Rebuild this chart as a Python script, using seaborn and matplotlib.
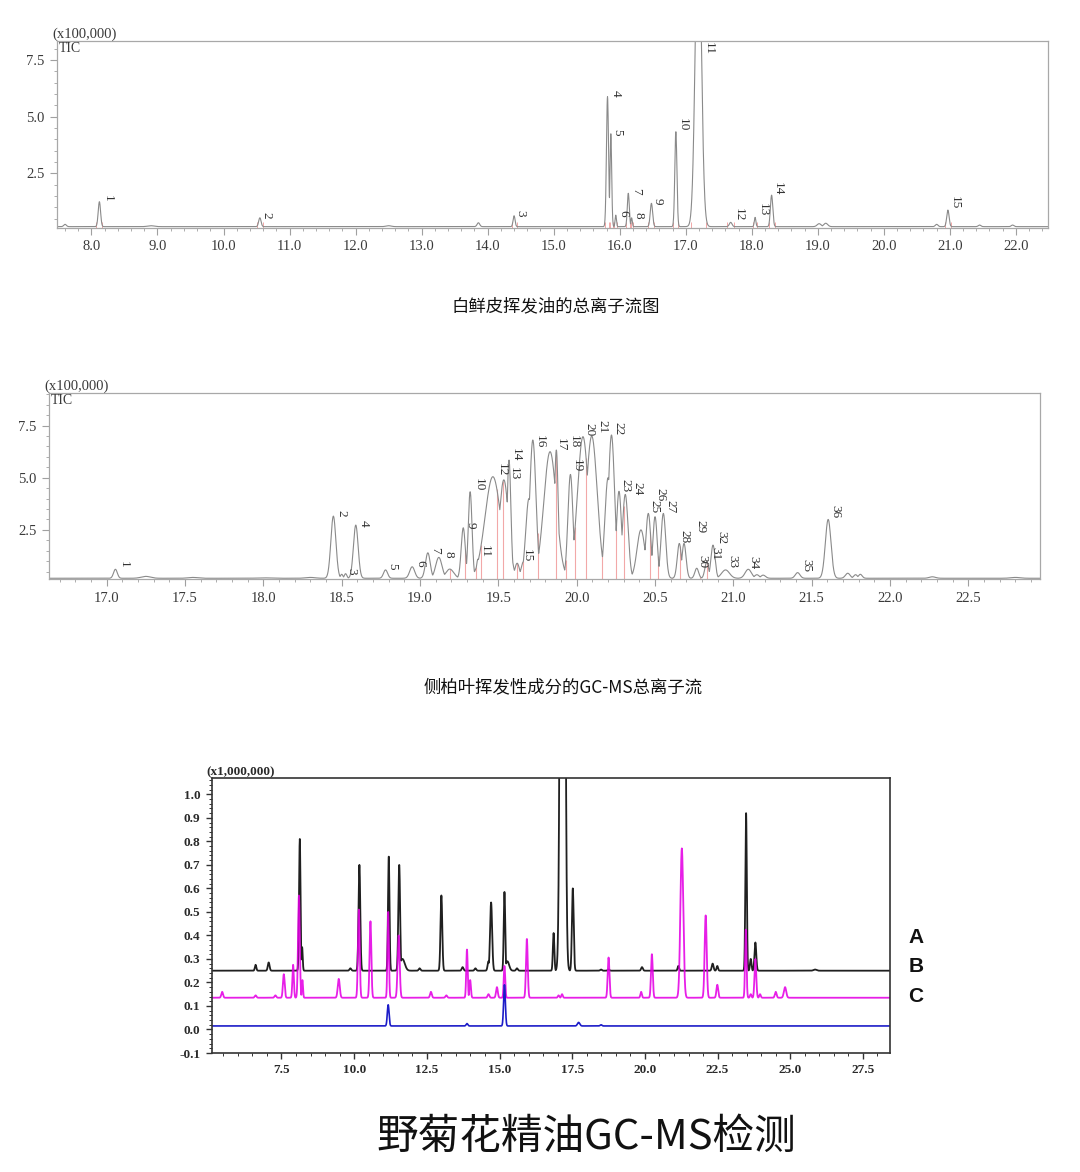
import numpy as np
import matplotlib
matplotlib.use("Agg")
import matplotlib.pyplot as plt
from matplotlib.ticker import MultipleLocator, FormatStrFormatter
import seaborn as sns

# ── panel 1: 白鲜皮挥发油 TIC  (x100,000) ──────────────────────────────────────────
p1_rt    = [7.60, 8.12, 8.90, 10.55, 12.50, 13.86, 14.40, 15.815, 15.865, 15.94, 16.13, 16.18,
            16.48, 16.85, 17.19, 17.68, 18.05, 18.30, 19.02, 19.12, 20.80, 20.97, 21.45, 21.95]
p1_top   = [0.25, 1.25, 0.19, 0.54, 0.19, 0.32, 0.63, 5.88, 4.26, 0.66, 1.62, 0.54,
            1.18, 4.34, 14.0, 0.34, 0.56, 1.54, 0.28, 0.30, 0.25, 0.88, 0.22, 0.22]
p1_sigma = [0.02, 0.018, 0.05, 0.018, 0.04, 0.02, 0.015, 0.016, 0.013, 0.010, 0.015, 0.010,
            0.018, 0.016, 0.045, 0.02, 0.012, 0.018, 0.03, 0.03, 0.02, 0.018, 0.02, 0.02]
p1_base  = 0.15
p1_tags  = ["1", "2", "3", "4", "5", "6", "7", "8", "9", "10", "11", "12", "13", "14", "15"]

# ── panel 2: 侧柏叶 TIC  (x100,000) ─────────────────────────────────────────────
p2_rt    = [17.056, 17.25, 17.55, 18.00, 18.30, 18.447, 18.50, 18.525, 18.59, 18.78, 18.95,
            19.05, 19.12, 19.19, 19.276, 19.32, 19.37, 19.465, 19.535, 19.568, 19.62, 19.66,
            19.695, 19.72, 19.83, 19.87, 19.96, 20.04, 20.096, 20.20, 20.222, 20.27, 20.31,
            20.41, 20.457, 20.50, 20.553, 20.655, 20.685, 20.766, 20.83, 20.87, 20.95,
            21.095, 21.15, 21.19, 21.41, 21.605, 21.73, 21.78, 21.81, 22.27, 22.80]
p2_top   = [0.61, 0.27, 0.22, 0.20, 0.22, 3.16, 0.37, 0.40, 2.73, 0.58, 0.73,
            1.40, 1.18, 0.62, 2.60, 4.33, 1.10, 5.05, 4.90, 5.85, 0.90, 0.97,
            4.00, 6.81, 6.25, 6.33, 5.16, 6.97, 7.00, 5.00, 7.05, 4.35, 4.20,
            2.50, 3.29, 3.13, 3.29, 1.85, 1.85, 0.66, 0.97, 1.77, 0.58,
            0.61, 0.35, 0.33, 0.45, 3.00, 0.42, 0.35, 0.37, 0.25, 0.22]
p2_sigma = [0.012, 0.03, 0.03, 0.04, 0.03, 0.016, 0.008, 0.008, 0.015, 0.013, 0.016,
            0.015, 0.02, 0.025, 0.013, 0.012, 0.010, 0.05, 0.03, 0.012, 0.015, 0.015,
            0.02, 0.02, 0.04, 0.012, 0.016, 0.035, 0.035, 0.02, 0.02, 0.016, 0.018,
            0.025, 0.016, 0.014, 0.015, 0.013, 0.013, 0.012, 0.012, 0.013, 0.025,
            0.02, 0.015, 0.015, 0.015, 0.018, 0.015, 0.012, 0.012, 0.02, 0.03]
p2_base  = 0.18
p2_tags  = [str(i) for i in range(1, 37)]
# integration drop lines (red)
p2_drop_rt = [19.19, 19.29, 19.36, 19.39, 19.49, 19.53, 19.62, 19.66, 19.75, 19.87,
              19.93, 19.99, 20.06, 20.16, 20.25, 20.30, 20.47, 20.52, 20.61, 20.66, 20.79, 20.83]

# ── panel 3: 野菊花精油  (x1,000,000) ───────────────────────────────────────────
a_rt    = [6.61, 7.06, 8.13, 8.21, 9.87, 10.18, 11.19, 11.55, 11.66, 12.25, 13.00, 13.73,
           14.17, 14.62, 14.71, 15.17, 15.27, 15.60, 16.86, 17.17, 17.52, 18.49, 18.75,
           19.90, 21.15, 22.33, 22.49, 23.48, 23.64, 23.80, 25.85]
a_top   = [0.275, 0.285, 0.81, 0.35, 0.26, 0.70, 0.735, 0.70, 0.30, 0.26, 0.57, 0.265,
           0.26, 0.29, 0.54, 0.585, 0.29, 0.26, 0.41, 6.0, 0.60, 0.255, 0.255,
           0.265, 0.27, 0.28, 0.27, 0.92, 0.30, 0.37, 0.255]
a_sigma = [0.025, 0.03, 0.025, 0.02, 0.03, 0.03, 0.025, 0.03, 0.08, 0.03, 0.03, 0.03,
           0.03, 0.03, 0.035, 0.025, 0.06, 0.03, 0.025, 0.06, 0.03, 0.03, 0.03,
           0.03, 0.025, 0.03, 0.025, 0.025, 0.025, 0.03, 0.05]
a_base  = 0.25

b_rt    = [5.46, 6.61, 7.29, 7.58, 7.90, 8.10, 8.22, 9.47, 10.16, 10.56, 11.17, 11.53,
           12.64, 13.17, 13.88, 13.99, 14.62, 14.91, 15.17, 15.94, 17.03, 17.15, 18.75,
           19.87, 20.24, 21.27, 22.09, 22.49, 23.47, 23.64, 23.80, 23.96, 24.50, 24.82]
b_top   = [0.16, 0.145, 0.145, 0.235, 0.275, 0.57, 0.21, 0.215, 0.51, 0.46, 0.50, 0.40,
           0.16, 0.145, 0.34, 0.21, 0.15, 0.18, 0.27, 0.385, 0.145, 0.15, 0.306,
           0.16, 0.32, 0.77, 0.485, 0.19, 0.425, 0.15, 0.30, 0.15, 0.16, 0.18]
b_sigma = [0.03, 0.03, 0.03, 0.03, 0.025, 0.03, 0.02, 0.035, 0.03, 0.03, 0.025, 0.035,
           0.03, 0.03, 0.025, 0.025, 0.03, 0.03, 0.025, 0.03, 0.025, 0.025, 0.03,
           0.025, 0.03, 0.05, 0.035, 0.03, 0.025, 0.025, 0.03, 0.025, 0.03, 0.04]
b_base  = 0.135

c_rt    = [11.17, 13.88, 15.17, 17.72, 18.49]
c_top   = [0.105, 0.025, 0.19, 0.03, 0.02]
c_sigma = [0.03, 0.03, 0.03, 0.04, 0.03]
c_base  = 0.015

trace_labels = ["A", "B", "C"]

# ── label anchors (layout, data coords: centre x / lower end y) ─────────────────
P1_TAG_X = [8.24, 10.65, 14.49, 15.94, 15.97, 16.05, 16.25, 16.29, 16.58, 16.96,
            17.35, 17.81, 18.16, 18.40, 21.07]
P1_TAG_Y = [1.25, 0.52, 0.59, 5.88, 4.19, 0.59, 1.54, 0.52, 1.13, 4.37,
            None, 0.37, 0.62, 1.51, 0.93]
P2_TAG_X = [17.107, 18.50, 18.564, 18.638, 18.82, 19.0, 19.096, 19.18, 19.32, 19.372,
            19.415, 19.52, 19.60, 19.61, 19.68, 19.766, 19.90, 19.98, 20.0, 20.08,
            20.166, 20.265, 20.31, 20.39, 20.495, 20.536, 20.60, 20.69, 20.787, 20.80,
            20.885, 20.925, 20.995, 21.127, 21.463, 21.648]
P2_TAG_Y = [0.66, 3.13, 0.37, 2.65, 0.58, 0.73, 1.38, 1.18, 2.57, 4.33,
            1.14, 5.05, 4.89, 5.77, 0.97, 6.41, 6.25, 6.41, 5.24, 6.97,
            7.13, 7.05, 4.33, 4.17, 3.29, 3.85, 3.29, 1.86, 2.33, 0.66,
            1.05, 1.80, 0.66, 0.61, 0.49, 3.05]


def trace(t, rt, top, sigma, base):
    """Chromatogram envelope: baseline plus the highest peak at each time."""
    y = np.zeros_like(t)
    for r, h, s in zip(rt, top, sigma):
        y = np.maximum(y, (h - base) * np.exp(-0.5 * ((t - r) / s) ** 2))
    return y + base


sns.set_theme(style="white")
plt.rcParams["font.family"] = ["Liberation Serif", "DejaVu Serif"]
CJK = ["Noto Sans CJK SC", "DejaVu Sans"]

fig = plt.figure(figsize=(10.8, 11.72), dpi=100)
fig.patch.set_facecolor("white")


def style_tic_axes(ax, xmajor, xminor):
    for sp in ax.spines.values():
        sp.set_color("#a8a8a8")
        sp.set_linewidth(0.9)
    ax.xaxis.set_major_locator(MultipleLocator(xmajor))
    ax.xaxis.set_minor_locator(MultipleLocator(xminor))
    ax.yaxis.set_major_locator(MultipleLocator(2.5))
    ax.yaxis.set_minor_locator(MultipleLocator(0.5))
    ax.xaxis.set_major_formatter(FormatStrFormatter("%.1f"))
    ax.yaxis.set_major_formatter(FormatStrFormatter("%.1f"))
    ax.tick_params(which="both", direction="out", colors="#a0a0a0", labelcolor="#3a3a3a",
                   labelsize=10.5, bottom=True, left=True)
    ax.tick_params(which="major", length=5, width=0.8, pad=4)
    ax.tick_params(which="minor", length=2.5, width=0.6)
    ax.set_xlabel("")
    ax.set_ylabel("")
    ax.grid(False)


def tic_header(ax):
    ax.text(-0.005, 1.0, "(x100,000)", transform=ax.transAxes, ha="left", va="bottom",
            fontsize=10.5, color="#3a3a3a")
    ax.text(0.002, 0.995, "TIC", transform=ax.transAxes, ha="left", va="top",
            fontsize=10, color="#3a3a3a")


# ── Panel 1 ─────────────────────────────────────────────────────────────────────
ax1 = fig.add_axes([57 / 1080, 1 - 228 / 1172, 991 / 1080, 187.3 / 1172])
t1 = np.linspace(7.478, 22.486, 5000)
y1 = trace(t1, p1_rt, p1_top, p1_sigma, p1_base)
tagged = [r for r, h in zip(p1_rt, p1_top) if h > 0.5 or r in (10.55, 17.68)]
feet = [r + d * s for r, s in zip(p1_rt, p1_sigma) if r in tagged for d in (-2.5, 2.5)]
ax1.vlines(feet, p1_base - 0.06, p1_base + 0.2, color="#f2a8a8", lw=0.7)
sns.lineplot(x=t1, y=y1, ax=ax1, color="#8a8a8a", linewidth=0.8, estimator=None)
ax1.set_xlim(7.478, 22.486)
ax1.set_ylim(0.09, 8.35)
style_tic_axes(ax1, 1.0, 0.2)
for tag, tx, ty in zip(p1_tags, P1_TAG_X, P1_TAG_Y):
    if ty is None:
        ax1.text(tx, 8.3, tag, rotation=270, ha="center", va="top", fontsize=9.5,
                 color="#333333")
    else:
        ax1.text(tx, ty, tag, rotation=270, ha="center", va="bottom", fontsize=9.5,
                 color="#333333")
tic_header(ax1)

fig.text(556 / 1080, 1 - 306 / 1172, "白鲜皮挥发油的总离子流图", ha="center", va="center",
         fontsize=12.5, family=CJK, color="#111111")

# ── Panel 2 ─────────────────────────────────────────────────────────────────────
ax2 = fig.add_axes([49.3 / 1080, 1 - 579.3 / 1172, 990.7 / 1080, 186 / 1172])
t2 = np.linspace(16.634, 22.957, 6000)
y2 = trace(t2, p2_rt, p2_top, p2_sigma, p2_base)
ax2.vlines(p2_drop_rt, p2_base - 0.05, np.interp(p2_drop_rt, t2, y2),
           color="#f2a8a8", lw=0.8)
sns.lineplot(x=t2, y=y2, ax=ax2, color="#8a8a8a", linewidth=0.8, estimator=None)
ax2.set_xlim(16.634, 22.957)
ax2.set_ylim(0.13, 9.05)
style_tic_axes(ax2, 0.5, 0.1)
for tag, tx, ty in zip(p2_tags, P2_TAG_X, P2_TAG_Y):
    ax2.text(tx, ty, tag, rotation=270, ha="center", va="bottom", fontsize=9.5,
             color="#333333")
tic_header(ax2)

fig.text(563 / 1080, 1 - 687 / 1172, "侧柏叶挥发性成分的GC-MS总离子流", ha="center", va="center",
         fontsize=12.5, family=CJK, color="#111111")

# ── Panel 3 ─────────────────────────────────────────────────────────────────────
ax3 = fig.add_axes([211.7 / 1080, 1 - 1053 / 1172, 678.3 / 1080, 274.7 / 1172])
t3 = np.linspace(5.1, 28.43, 8000)
sns.lineplot(x=t3, y=trace(t3, a_rt, a_top, a_sigma, a_base), ax=ax3,
             color="#202020", linewidth=1.3, estimator=None)
sns.lineplot(x=t3, y=trace(t3, b_rt, b_top, b_sigma, b_base), ax=ax3,
             color="#e400e4", linewidth=1.3, alpha=0.88, estimator=None)
sns.lineplot(x=t3, y=trace(t3, c_rt, c_top, c_sigma, c_base), ax=ax3,
             color="#1c1cc8", linewidth=1.2, estimator=None)
ax3.set_xlim(5.1, 28.43)
ax3.set_ylim(-0.1, 1.068)
for sp in ax3.spines.values():
    sp.set_color("#333333")
    sp.set_linewidth(1.2)
ax3.xaxis.set_major_locator(MultipleLocator(2.5))
ax3.xaxis.set_minor_locator(MultipleLocator(0.5))
ax3.yaxis.set_major_locator(MultipleLocator(0.1))
ax3.yaxis.set_minor_locator(MultipleLocator(0.02))
ax3.xaxis.set_major_formatter(FormatStrFormatter("%.1f"))
ax3.yaxis.set_major_formatter(FormatStrFormatter("%.1f"))
ax3.tick_params(which="both", direction="out", colors="#333333", labelcolor="#2a2a2a",
                labelsize=9.5, bottom=True, left=True)
ax3.tick_params(which="major", length=4, width=1.0, pad=4)
ax3.tick_params(which="minor", length=2, width=0.7)
for lab in ax3.get_xticklabels() + ax3.get_yticklabels():
    lab.set_fontweight("bold")
ax3.set_xlabel("")
ax3.set_ylabel("")
ax3.text(-0.008, 1.0, "(x1,000,000)", transform=ax3.transAxes, ha="left", va="bottom",
         fontsize=9.5, fontweight="bold", color="#2a2a2a")

for i, lab in enumerate(trace_labels):
    fig.text(916 / 1080, 1 - (937.7 + 29.2 * i) / 1172, lab, ha="center", va="center",
             fontsize=15, fontweight="bold", family=["Liberation Sans", "DejaVu Sans"],
             color="#111111")

fig.text(586 / 1080, 1 - 1137 / 1172, "野菊花精油GC-MS检测", ha="center", va="center",
         fontsize=30, family=CJK, color="#111111")

fig.savefig("out.png", dpi=100, facecolor="white")
